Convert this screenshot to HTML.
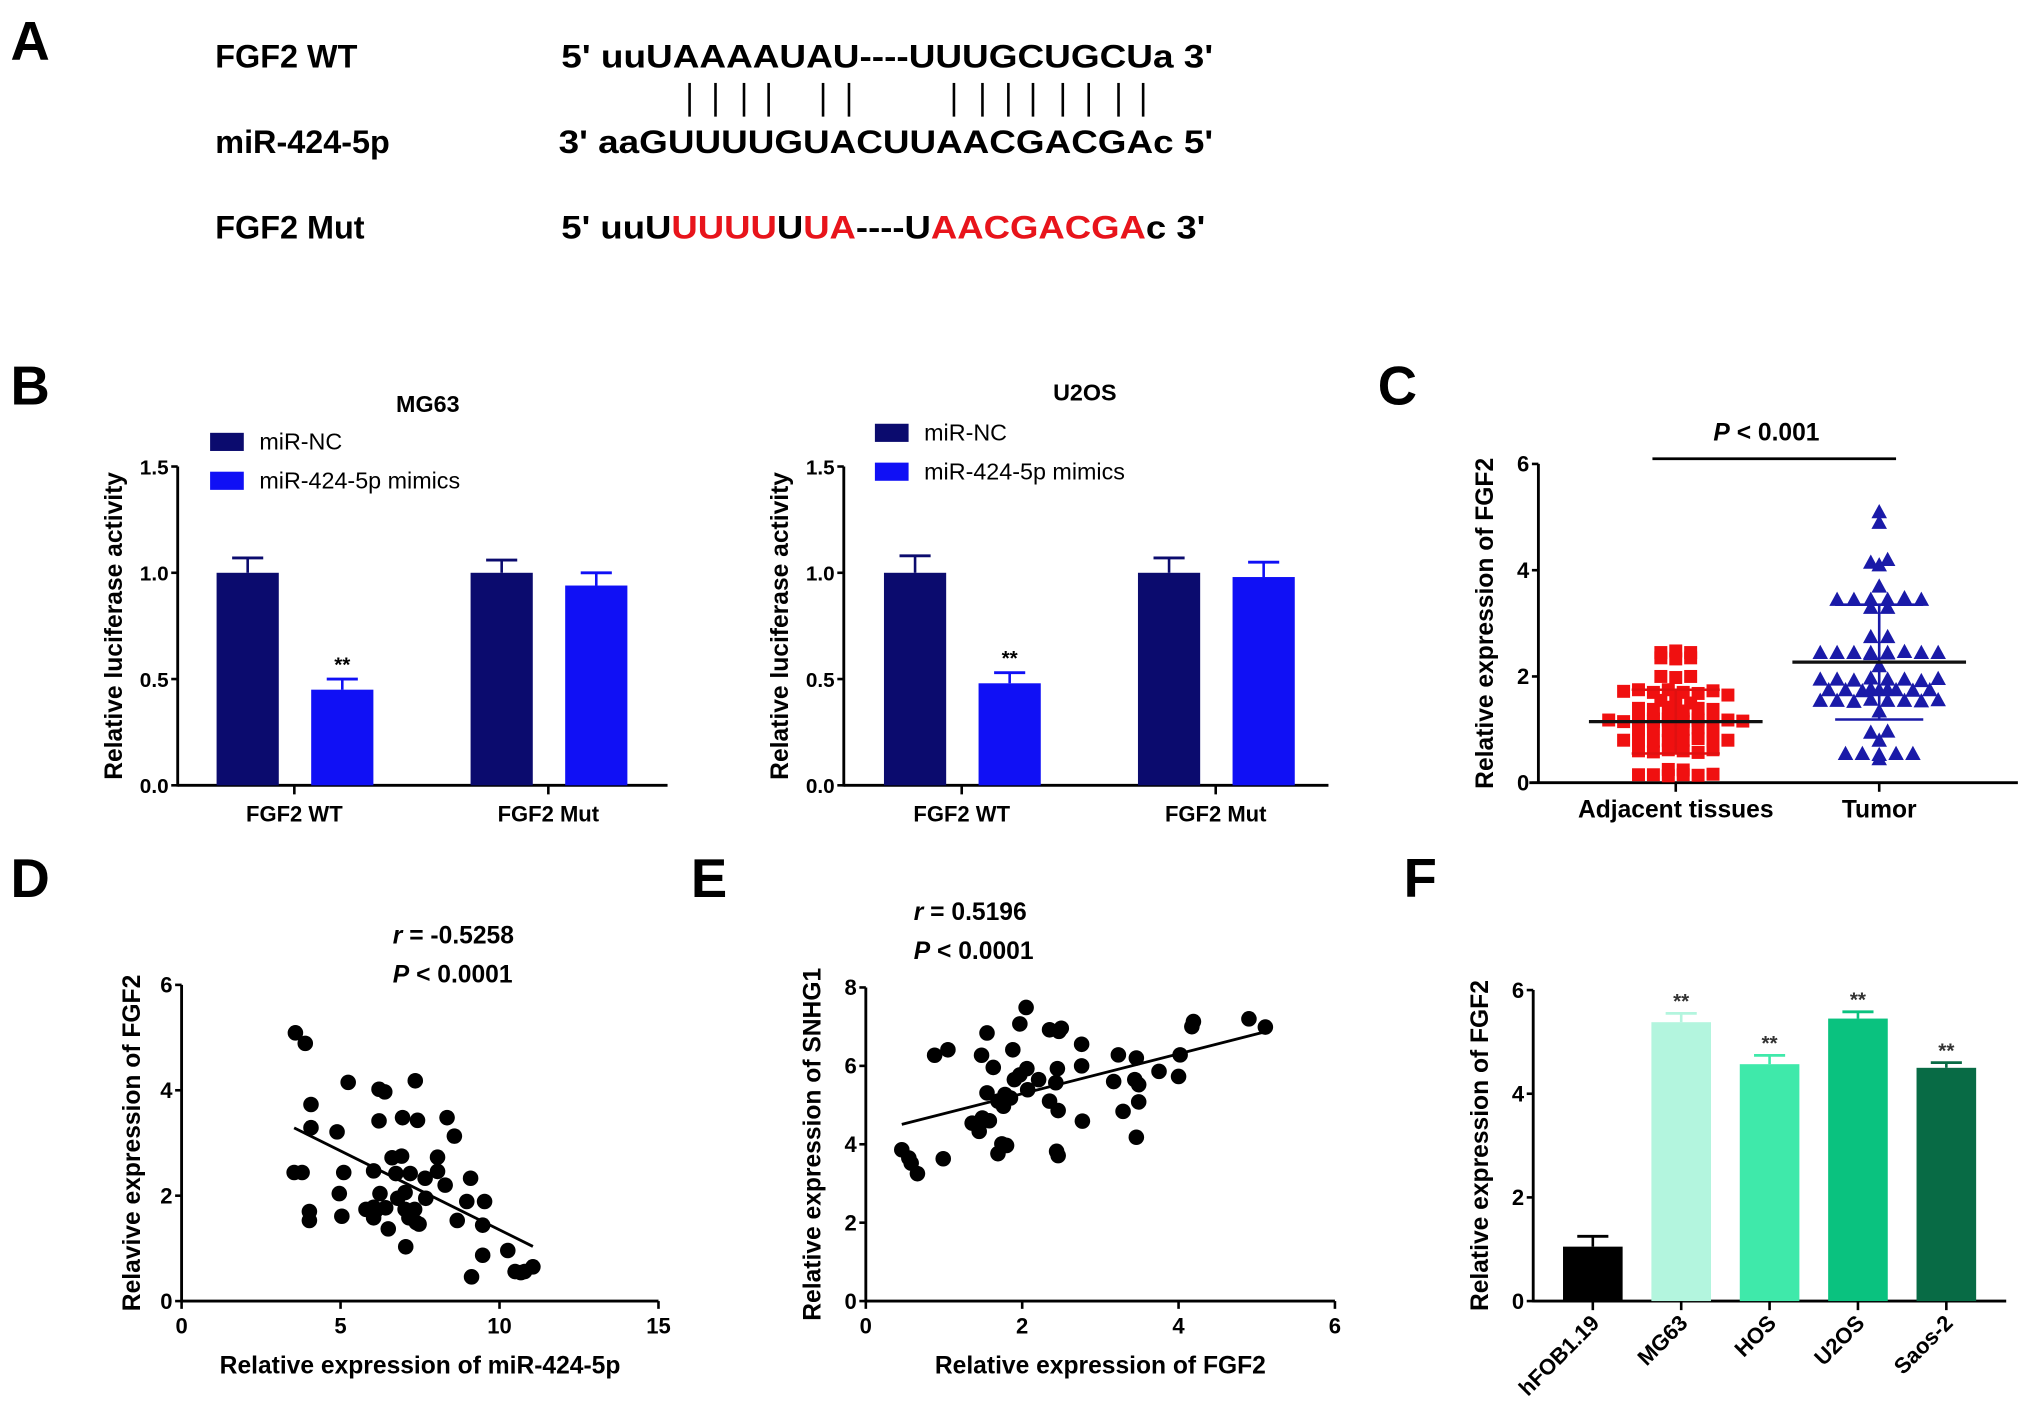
<!DOCTYPE html>
<html><head><meta charset="utf-8"><style>
html,body{margin:0;padding:0;background:#fff;}
svg{display:block;font-family:"Liberation Sans",Arial,sans-serif;}
</style></head>
<body>
<svg id="fig" width="2031" height="1419" viewBox="0 0 1567 1095" xmlns="http://www.w3.org/2000/svg">
<g font-weight="bold" font-size="25">
<text x="8" y="46" font-size="42">A</text>
<text x="166" y="52">FGF2 WT</text>
<text x="166" y="118">miR-424-5p</text>
<text x="166" y="184">FGF2 Mut</text>
<text x="433" y="52" textLength="503" lengthAdjust="spacingAndGlyphs">5' uuUAAAAUAU----UUUGCUGCUa 3'</text>
<text x="431" y="118" textLength="505" lengthAdjust="spacingAndGlyphs">3' aaGUUUUGUACUUAACGACGAc 5'</text>
<text x="433" y="184" textLength="497" lengthAdjust="spacingAndGlyphs">5' uuU<tspan fill="#e8141b">UUUU</tspan>U<tspan fill="#e8141b">UA</tspan>----U<tspan fill="#e8141b">AACGACGA</tspan>c 3'</text>
<g id="pipes" stroke="#000" stroke-width="2"></g>
</g>
<text x="8" y="312" font-size="42" font-weight="bold">B</text>
<text x="1063" y="312" font-size="42" font-weight="bold">C</text>
<text x="8" y="692" font-size="42" font-weight="bold">D</text>
<text x="533" y="692" font-size="42" font-weight="bold">E</text>
<text x="1083" y="692" font-size="42" font-weight="bold">F</text>
<g id="charts"></g>
</svg>
<script>
// ---------- data ----------
const pipeX = [532,552,574,593,635,655,736,758,778,797,820,840,863,882];
const bGroups = ["FGF2 WT","FGF2 Mut"];
const bSeries = ["miR-NC","miR-424-5p mimics"];
const mg63NC = [1.0, 1.0];
const mg63NCerr = [0.07, 0.06];
const mg63Mim = [0.45, 0.94];
const mg63MimErr = [0.05, 0.06];
const u2osNC = [1.0, 1.0];
const u2osNCerr = [0.08, 0.07];
const u2osMim = [0.48, 0.98];
const u2osMimErr = [0.05, 0.07];
const bTicks = [0, 0.5, 1.0, 1.5];
const bTickLabels = ["0.0","0.5","1.0","1.5"];
const cCategories = ["Adjacent tissues","Tumor"];
const adjacentVals = [2.45,2.48,2.35,2.33,2.35,2.45,2.0,1.98,2.0,1.72,1.75,1.7,1.75,1.7,1.68,1.73,1.65,1.55,1.58,1.5,1.4,1.38,1.42,1.35,1.4,1.38,1.18,1.15,1.2,1.17,1.15,1.18,1.2,1.15,1.17,1.2,1.15,1.18,1.16,1.2,1.0,1.02,0.98,1.0,1.03,0.97,0.8,0.82,0.78,0.8,0.8,0.83,0.78,0.8,0.6,0.58,0.62,0.6,0.57,0.62,0.25,0.24,0.15,0.15,0.13,0.15,0.14,0.16];
const tumorVals = [5.1,4.9,4.15,4.2,4.1,3.7,3.45,3.45,3.45,3.45,3.48,3.45,3.3,3.3,2.75,2.75,2.45,2.45,2.45,2.45,2.43,2.45,2.47,2.45,2.44,2.45,2.2,1.95,1.95,1.93,1.97,1.95,1.95,1.92,1.96,1.75,1.75,1.73,1.77,1.75,1.75,1.74,1.76,1.75,1.55,1.55,1.53,1.57,1.55,1.55,1.54,1.56,1.35,0.95,0.97,0.8,0.55,0.55,0.53,0.55,0.55,0.45];
const cMeans = [1.15, 2.27];
const cSD = [0.6, 1.08];
const cTicks = [0,2,4,6];
const dX = [3.58,3.89,4.07,4.07,3.54,3.79,4.02,4.02,5.24,4.89,5.10,4.96,5.04,6.21,6.39,6.21,6.04,6.24,5.8,6.04,6.1,6.04,6.42,6.5,6.95,7.35,7.42,6.62,6.92,6.74,7.19,6.8,7.03,7.03,7.33,7.15,7.38,7.47,7.05,7.66,7.68,8.35,8.58,8.05,8.05,8.29,8.67,8.97,9.09,9.53,9.47,9.47,9.12,10.26,10.49,10.67,10.79,11.05];
const dY = [5.09,4.89,3.73,3.29,2.44,2.44,1.70,1.53,4.15,3.21,2.44,2.04,1.61,4.02,3.97,3.42,2.47,2.04,1.74,1.78,1.71,1.58,1.77,1.37,3.48,4.18,3.43,2.72,2.75,2.42,2.42,1.95,2.06,1.74,1.74,1.58,1.49,1.46,1.03,2.33,1.95,3.48,3.13,2.73,2.46,2.2,1.53,1.89,2.33,1.89,1.44,0.87,0.46,0.96,0.56,0.54,0.56,0.65];
const dXTicks = [0,5,10,15];
const dYTicks = [0,2,4,6];
const eX = [0.46,0.55,0.58,0.66,0.88,1.05,0.99,1.55,1.48,1.63,1.55,1.36,1.45,1.49,1.58,1.69,1.74,1.8,1.69,1.76,1.78,1.85,1.88,1.97,2.05,1.9,1.97,2.06,2.07,2.21,2.35,2.35,2.47,2.5,2.45,2.43,2.46,2.44,2.46,2.76,2.76,2.77,3.17,3.23,3.29,3.44,3.49,3.46,3.49,3.46,3.75,4.0,4.02,4.17,4.19,4.9,5.11];
const eY = [3.86,3.65,3.52,3.25,6.27,6.41,3.63,6.84,6.27,5.96,5.31,4.54,4.33,4.67,4.6,3.76,4.01,3.97,5.1,4.97,5.27,5.18,6.41,7.07,7.49,5.65,5.77,5.93,5.39,5.65,5.1,6.92,6.88,6.96,5.93,5.57,4.86,3.82,3.71,6.55,6.0,4.59,5.6,6.28,4.84,5.65,5.52,6.2,5.08,4.18,5.86,5.73,6.28,7.0,7.13,7.2,6.99];
const eXTicks = [0,2,4,6];
const eYTicks = [0,2,4,6,8];
const fCategories = ["hFOB1.19","MG63","HOS","U2OS","Saos-2"];
const fValues = [1.05,5.38,4.57,5.45,4.5];
const fErrors = [0.2,0.17,0.17,0.13,0.1];
const fColors = ["#000000","#b3f5de","#3fe9aa","#0ac27f","#086b45"];
const fTicks = [0,2,4,6];

// ---------- helpers ----------
const NS="http://www.w3.org/2000/svg";
const root=document.getElementById('charts');
function mk(tag, parent, attrs){const e=document.createElementNS(NS,tag);for(const k in attrs)e.setAttribute(k,attrs[k]);(parent||root).appendChild(e);return e;}
function lin(d0,d1,r0,r1){return v=>r0+(v-d0)/(d1-d0)*(r1-r0);}

const pipes=document.getElementById('pipes');
pipeX.forEach(x=>{const l=mk('line',pipes,{x1:x,x2:x,y1:64,y2:90});

});

function yAxis(g,x,y,ticks,labels,title,titleX,fs){
  const y0=y(ticks[0]),y1=y(ticks[ticks.length-1]);
  const ax=mk('line',g,{x1:x,x2:x,y1:y0+1,y2:y1,stroke:'#000','stroke-width':2.2});
  
  
  ticks.forEach((t,i)=>{
    const tk=mk('line',g,{x1:x-5,x2:x,y1:y(t),y2:y(t),stroke:'#000','stroke-width':2});
    
    
    const tl=mk('text',g,{x:x-7,y:y(t)+6,'text-anchor':'end','font-size':fs||17,'font-weight':'bold'});
    tl.textContent=labels?labels[i]:String(t);
    
    
  });
  const cy=(y0+y1)/2;
  const tt=mk('text',g,{x:titleX,y:cy,'text-anchor':'middle','font-size':19,'font-weight':'bold',transform:`rotate(-90 ${titleX} ${cy})`});
  tt.textContent=title;
  
  
}
function xLine(g,x0,x1,y){
  const l=mk('line',g,{x1:x0,x2:x1,y1:y,y2:y,stroke:'#000','stroke-width':2.2});
  
  
}
function errBar(g,cx,ytop,yerr,col,w){
  const a=mk('line',g,{x1:cx,x2:cx,y1:ytop,y2:yerr,stroke:col,'stroke-width':2});
  
  
  const b=mk('line',g,{x1:cx-w,x2:cx+w,y1:yerr,y2:yerr,stroke:col,'stroke-width':2.2});
  
  
}

// ---------- panel B ----------
function barChartB(name,ax,axEnd,title,titleX,titleY,legX,legY,nc,ncErr,mim,mimErr,groupX){
  const g=mk('g',root,{});
  
  
  const y=lin(0,1.5,606,360);
  const t=mk('text',g,{x:titleX,y:titleY,'text-anchor':'middle','font-size':18,'font-weight':'bold'});t.textContent=title;
  
  
  const cols=['#0b0b6e','#1010f5'];
  bSeries.forEach((s,i)=>{
    const r=mk('rect',g,{x:legX,y:legY+i*30,width:26,height:14,fill:cols[i]});
    
    
    const tx=mk('text',g,{x:legX+38,y:legY+i*30+13,'font-size':18});tx.textContent=s;
    
    
  });
  yAxis(g,ax,y,bTicks,bTickLabels,'Relative luciferase activity',ax-43,16);
  xLine(g,ax,axEnd,606);
  bGroups.forEach((grp,i)=>{
    const cx=groupX[i];
    [[nc,ncErr,-36,cols[0]],[mim,mimErr,37,cols[1]]].forEach(([v,e,off,c],k)=>{
      const bx=cx+off-24;
      const r=mk('rect',g,{x:bx,y:y(v[i]),width:48,height:606-y(v[i]),fill:c});
      
      
      errBar(g,cx+off,y(v[i]),y(v[i]+e[i]),c,12);
    });
    if(mim[i]<0.7){
      const st=mk('text',g,{x:cx+37,y:y(mim[i]+mimErr[i])-6,'text-anchor':'middle','font-size':16,'font-weight':'bold'});st.textContent='**';
      
      
    }
    const tk=mk('line',g,{x1:cx,x2:cx,y1:606,y2:613,stroke:'#000','stroke-width':2});
    
    
    const tl=mk('text',g,{x:cx,y:634,'text-anchor':'middle','font-size':17,'font-weight':'bold'});tl.textContent=grp;
    
    
  });
}
barChartB('chart-mg63',137,515,'MG63',330,318,162,334,mg63NC,mg63NCerr,mg63Mim,mg63MimErr,[227,423]);
barChartB('chart-u2os',651,1025,'U2OS',837,309,675,327,u2osNC,u2osNCerr,u2osMim,u2osMimErr,[742,938]);

// ---------- panel C ----------
(function(){
  const g=mk('g',root,{});
  
  
  const y=lin(0,6,604,358);
  const cxs=[1293,1450];
  yAxis(g,1187,y,cTicks,null,'Relative expression of FGF2',1152,17);
  xLine(g,1180,1557,604);
  const sl=mk('line',g,{x1:1275,x2:1463,y1:354,y2:354,stroke:'#000','stroke-width':2.2});
  
  
  const pt=mk('text',g,{x:1363,y:340,'text-anchor':'middle','font-size':19,'font-weight':'bold'});
  pt.innerHTML='<tspan font-style="italic">P</tspan> &lt; 0.001';
  
  
  [adjacentVals,tumorVals].forEach((vals,ci)=>{
    const bins={};
    vals.forEach(v=>{const b=Math.round(v/0.14);(bins[b]=bins[b]||[]).push(v);});
    Object.values(bins).forEach(arr=>{
      arr.forEach((v,j)=>{
        const off=(j-(arr.length-1)/2)*(ci?13:11.5);
        const px=cxs[ci]+off,py=y(v);
        let m;
        if(ci===0){m=mk('rect',g,{x:px-5,y:py-5,width:10,height:10,fill:'#f01010'});}
        else{m=mk('polygon',g,{points:`${px},${py-6} ${px-6},${py+5} ${px+6},${py+5}`,fill:'#1a1aa8'});}
        
        
      });
    });
    const col=ci?'#1a1aa8':'#e01010';
    const mx=cxs[ci];
    const sd=mk('line',g,{x1:mx,x2:mx,y1:y(cMeans[ci]-cSD[ci]),y2:y(cMeans[ci]+cSD[ci]),stroke:col,'stroke-width':2});
    
    
    [cMeans[ci]-cSD[ci],cMeans[ci]+cSD[ci]].forEach(v=>{
      const c=mk('line',g,{x1:mx-34,x2:mx+34,y1:y(v),y2:y(v),stroke:col,'stroke-width':2});
      
      
    });
    const ml=mk('line',g,{x1:mx-67,x2:mx+67,y1:y(cMeans[ci]),y2:y(cMeans[ci]),stroke:'#111','stroke-width':2.5});
    
    
    const tk=mk('line',g,{x1:mx,x2:mx,y1:604,y2:611,stroke:'#000','stroke-width':2});
    
    
    const tl=mk('text',g,{x:mx,y:631,'text-anchor':'middle','font-size':19,'font-weight':'bold'});tl.textContent=cCategories[ci];
    
    
  });
})();

// ---------- scatter D/E ----------
function scatter(name,xs,ys,xr,yr,px0,px1,py0,py1,xTicks,yTicks,xTitle,yTitle,yTitleX,statsX,statsY,rText){
  const g=mk('g',root,{});
  
  
  const x=lin(xr[0],xr[1],px0,px1),y=lin(yr[0],yr[1],py0,py1);
  yAxis(g,px0,y,yTicks,null,yTitle,yTitleX,17);
  xLine(g,px0,px1,py0);
  xTicks.forEach(t=>{
    const tk=mk('line',g,{x1:x(t),x2:x(t),y1:py0,y2:py0+6,stroke:'#000','stroke-width':2});
    
    
    const tl=mk('text',g,{x:x(t),y:py0+25,'text-anchor':'middle','font-size':17,'font-weight':'bold'});tl.textContent=t;
    
    
  });
  const xt=mk('text',g,{x:(px0+px1)/2,y:py0+56,'text-anchor':'middle','font-size':19,'font-weight':'bold'});xt.textContent=xTitle;
  
  
  const r=mk('text',g,{x:statsX,y:statsY,'font-size':19,'font-weight':'bold'});
  r.innerHTML='<tspan font-style="italic">r</tspan> = '+rText;
  
  
  const p=mk('text',g,{x:statsX,y:statsY+30,'font-size':19,'font-weight':'bold'});
  p.innerHTML='<tspan font-style="italic">P</tspan> &lt; 0.0001';
  
  
  xs.forEach((v,i)=>{
    const c=mk('circle',g,{cx:x(v),cy:y(ys[i]),r:6,fill:'#000'});
    
    
  });
  const n=xs.length,mx=xs.reduce((a,b)=>a+b)/n,my=ys.reduce((a,b)=>a+b)/n;
  let sxy=0,sxx=0;xs.forEach((v,i)=>{sxy+=(v-mx)*(ys[i]-my);sxx+=(v-mx)*(v-mx);});
  const b=sxy/sxx,a=my-b*mx;
  const lo=Math.min(...xs),hi=Math.max(...xs);
  const l=mk('line',g,{x1:x(lo),y1:y(a+b*lo),x2:x(hi),y2:y(a+b*hi),stroke:'#000','stroke-width':2.2});
  
  
}
scatter('chart-d-scatter',dX,dY,[0,15],[0,6],140,508,1004,760,dXTicks,dYTicks,'Relative expression of miR-424-5p','Relavive expression of FGF2',108,303,728,'-0.5258');
scatter('chart-e-scatter',eX,eY,[0,6],[0,8],668,1030,1004,762,eXTicks,eYTicks,'Relative expression of FGF2','Relative expression of SNHG1',633,705,710,'0.5196');

// ---------- panel F ----------
(function(){
  const g=mk('g',root,{});
  
  
  const y=lin(0,6,1004,764);
  yAxis(g,1183,y,fTicks,null,'Relative expression of FGF2',1148,17);
  xLine(g,1183,1548,1004);
  fCategories.forEach((c,i)=>{
    const cx=1229+i*68.2;
    const r=mk('rect',g,{x:cx-23,y:y(fValues[i]),width:46,height:1004-y(fValues[i]),fill:fColors[i]});
    
    
    errBar(g,cx,y(fValues[i]),y(fValues[i]+fErrors[i]),fColors[i],12);
    if(i>0){
      const st=mk('text',g,{x:cx,y:y(fValues[i]+fErrors[i])-4,'text-anchor':'middle','font-size':16,'font-weight':'bold',fill:'#333'});st.textContent='**';
      
      
    }
    const tk=mk('line',g,{x1:cx,x2:cx,y1:1004,y2:1011,stroke:'#000','stroke-width':2});
    
    
    const tl=mk('text',g,{x:cx+6,y:1022,'text-anchor':'end','font-size':17,'font-weight':'bold',transform:`rotate(-45 ${cx+6} 1022)`});tl.textContent=c;
    
    
  });
})();
</script>
</body></html>
